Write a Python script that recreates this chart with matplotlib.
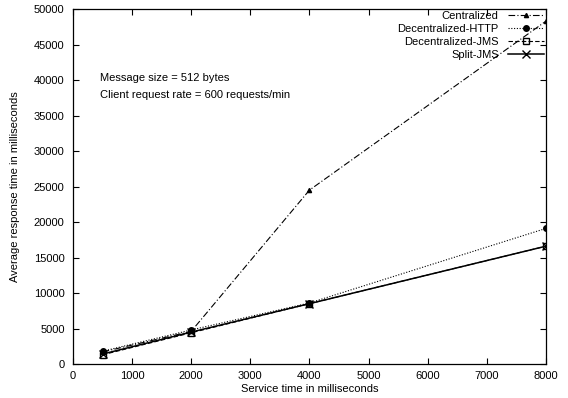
import matplotlib
matplotlib.use("Agg")
import matplotlib.pyplot as plt

plt.rcParams['font.family'] = ['Liberation Sans', 'DejaVu Sans']

service_time = [500, 2000, 4000, 8000]
centralized = [1700, 4600, 24500, 48300]
decentralized_http = [1800, 4800, 8600, 19100]
decentralized_jms = [1300, 4400, 8500, 16600]
split_jms = [1400, 4500, 8500, 16600]

fs = 8
fig = plt.figure(figsize=(5.68, 3.98), dpi=100)
ax = fig.add_axes([0.1285, 0.0854, 0.8325, 0.8916])

ax.plot(service_time, centralized, color='black', linestyle=(0, (6, 2, 1, 2)), linewidth=0.8,
        marker='^', markersize=3, label='Centralized')
ax.plot(service_time, decentralized_http, color='black', linestyle=(0, (1, 1.5)), linewidth=0.8,
        marker='o', markersize=4, label='Decentralized-HTTP')
ax.plot(service_time, decentralized_jms, color='black', linestyle=(0, (4, 2)), linewidth=0.8,
        marker='s', markersize=5, markerfacecolor='none', label='Decentralized-JMS')
ax.plot(service_time, split_jms, color='black', linestyle='-', linewidth=1.1,
        marker='x', markersize=6, label='Split-JMS')

ax.set_xlim(0, 8000)
ax.set_ylim(0, 50000)
ax.set_xticks(range(0, 8001, 1000))
ax.set_yticks(range(0, 50001, 5000))
ax.tick_params(direction='in', top=True, right=True, labelsize=fs, length=4, width=0.8)
ax.tick_params(axis='y', pad=6)
ax.tick_params(axis='x', pad=5)
for s in ax.spines.values():
    s.set_linewidth(0.9)

ax.set_xlabel('Service time in milliseconds', fontsize=fs, labelpad=2)
ax.set_ylabel('Average response time in milliseconds', fontsize=fs, labelpad=10)

ax.text(450, 40300, 'Message size = 512 bytes', fontsize=fs, va='center')
ax.text(450, 37900, 'Client request rate = 600 requests/min', fontsize=fs, va='center')

leg = ax.legend(loc='upper right', frameon=False, markerfirst=False, fontsize=fs,
                handlelength=3.3, labelspacing=0.28, borderaxespad=0.0, borderpad=0.15,
                handletextpad=0.8)
for t in leg.get_texts():
    t.set_ha('right')
leg._legend_box.align = 'right'

fig.savefig('out.png', dpi=100)
